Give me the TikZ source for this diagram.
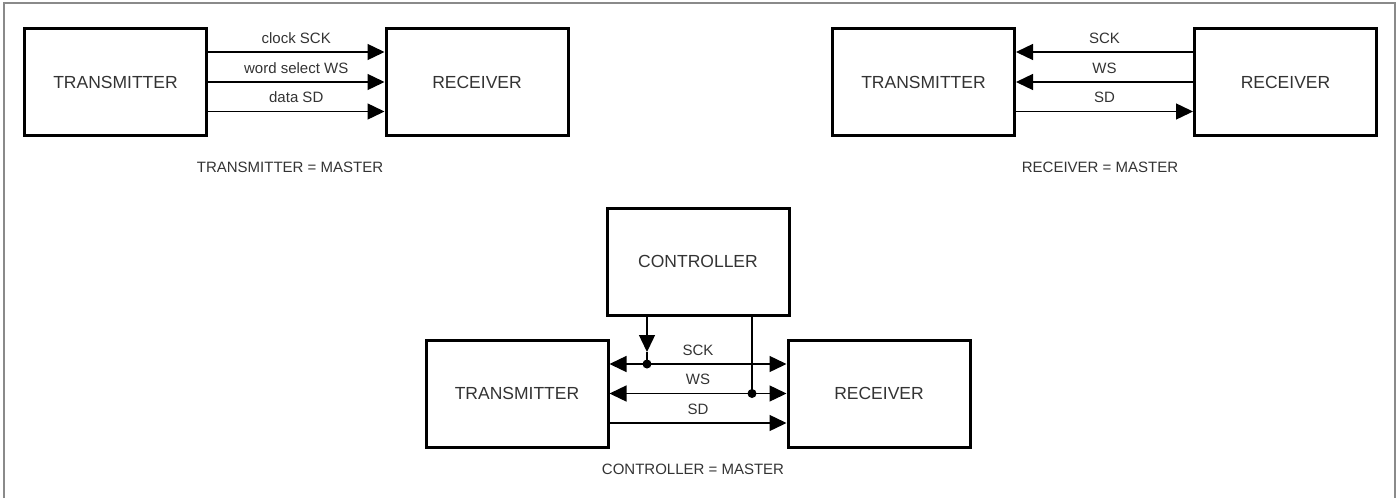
\documentclass[tikz,border=0pt]{standalone}
\usepackage{fontspec}
\setmainfont{Liberation Sans}
\usetikzlibrary{arrows.meta}
\definecolor{txt}{HTML}{333333}
\definecolor{frm}{HTML}{8A8A8A}
\begin{document}
\begin{tikzpicture}[x=1pt,y=-1pt,
  box/.style={draw=black, line width=3pt, minimum width=182pt, minimum height=107pt, inner sep=0pt, text=txt, font=\fontsize{17.5}{20}\selectfont},
  sig/.style={line width=1.4pt, draw=black},
  onetip/.style={-{Triangle[length=17pt,width=16pt]}},
  bitip/.style={{Triangle[length=17pt,width=16pt]}-{Triangle[length=17pt,width=16pt]}},
  lbl/.style={anchor=base, text=txt, font=\fontsize{15}{18}\selectfont, inner sep=0pt},
  capt/.style={anchor=base, text=txt, font=\fontsize{15}{18}\selectfont, inner sep=0pt},
  jdot/.style={circle, fill=black, inner sep=0pt, minimum size=9pt}]
\useasboundingbox (0,0) rectangle (1397,498);
\draw[frm, line width=1.5pt] (4,498) -- (4,3) -- (1395,3) -- (1395,498);

% top-left: transmitter = master
\node[box] (t1) at (115.5,82) {TRANSMITTER};
\node[box] (r1) at (477,82) {RECEIVER};
\draw[sig,onetip] ([yshift=30pt]t1.east) -- node[lbl,yshift=9pt]{clock SCK} ([yshift=30pt]r1.west);
\draw[sig,onetip] (t1.east) -- node[lbl,yshift=9pt]{word select WS} (r1.west);
\draw[sig,onetip] ([yshift=-29.5pt]t1.east) -- node[lbl,yshift=9pt]{data SD} ([yshift=-29.5pt]r1.west);
\node[capt] (c1) at (290,172) {TRANSMITTER = MASTER};

% top-right: receiver = master
\node[box] (t2) at (923.5,82) {TRANSMITTER};
\node[box] (r2) at (1285.5,82) {RECEIVER};
\draw[sig,onetip] ([yshift=30pt]r2.west) -- node[lbl,yshift=9pt]{SCK} ([yshift=30pt]t2.east);
\draw[sig,onetip] (r2.west) -- node[lbl,yshift=9pt]{WS} (t2.east);
\draw[sig,onetip] ([yshift=-29.5pt]t2.east) -- node[lbl,yshift=9pt]{SD} ([yshift=-29.5pt]r2.west);
\node[capt] (c2) at (1100,172) {RECEIVER = MASTER};

% bottom: controller = master
\node[box] (ct) at (698,261.5) {CONTROLLER};
\node[box] (t3) at (517,393.5) {TRANSMITTER};
\node[box] (r3) at (879,393.5) {RECEIVER};
\draw[sig,bitip] ([yshift=29.5pt]t3.east) -- node[lbl,yshift=9pt]{SCK} ([yshift=29.5pt]r3.west);
\draw[sig,bitip] (t3.east) -- node[lbl,yshift=9pt]{WS} (r3.west);
\draw[sig,onetip] ([yshift=-29.5pt]t3.east) -- node[lbl,yshift=9pt]{SD} ([yshift=-29.5pt]r3.west);
\node[jdot] (d1) at (647,364) {};
\node[jdot] (d2) at (752,393.5) {};
\coordinate (a1) at (647,352);
\draw[sig,onetip] (ct.south -| d1) -- (a1);
\draw[sig] (a1) -- (d1.center);
\draw[sig] (ct.south -| d2) -- (d2.center);
\node[capt] (c3) at (693,474) {CONTROLLER = MASTER};
\end{tikzpicture}
\end{document}
